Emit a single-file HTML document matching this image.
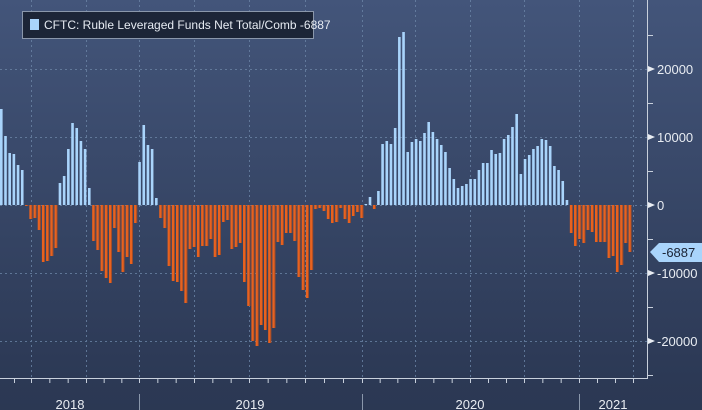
<!DOCTYPE html>
<html><head><meta charset="utf-8"><style>
html,body{margin:0;padding:0;width:702px;height:410px;overflow:hidden;background:#2b3852}
svg{display:block}
text{font-family:"Liberation Sans",sans-serif}
</style></head><body>
<svg id="s" width="702" height="410" xmlns="http://www.w3.org/2000/svg">
<defs>
<linearGradient id="bg" x1="0" y1="0" x2="0" y2="1">
<stop offset="0" stop-color="#43557a"/><stop offset="0.92" stop-color="#2c3955"/><stop offset="1" stop-color="#2b3853"/>
</linearGradient>
</defs>
<rect width="702" height="410" fill="url(#bg)"/>
<g id="grid" stroke="#6b84a6" stroke-width="1" stroke-dasharray="2,3" opacity="0.8"></g>
<g id="bars"></g>
<line x1="0" y1="378.5" x2="647" y2="378.5" stroke="#c8d0dc"/>
<line x1="647.5" y1="0" x2="647.5" y2="379" stroke="#c8d0dc"/>
<g id="ax" fill="#e8ecf2" font-size="13"></g>
<rect x="22.5" y="11.5" width="291" height="27" fill="#1c2537" stroke="#8a97ab"/>
<rect x="30" y="19" width="9" height="11" fill="#a9d4fb"/>
<text x="44" y="29" fill="#e6ebf2" font-size="12">CFTC: Ruble Leveraged Funds Net Total/Comb  -6887</text>
<path d="M650,252 L659,243 L702,243 L702,262 L659,262 Z" fill="#a9d4fb"/>
<text x="662" y="257" fill="#1a2335" font-size="13">-6887</text>
</svg>
<script>
var tops=[109,136,153,154,165,170,206,219,218,230,262,261,256,248,183,176,149,123,128,141,149,188,241,250,271,278,283,228,252,272,257,264,223,162,125,145,149,198,218,228,266,281,282,291,303,249,247,257,246,246,239,257,255,222,220,249,247,243,
282,306,341,346,325,330,343,328,242,245,233,233,241,277,290,298,270,209,208,211,219,223,222,208,219,223,216,212,218,204,197,209,
191,144,141,144,128,37,32,152,142,139,141,133,122,132,139,145,152,168,179,188,186,184,179,179,170,163,163,150,154,153,139,135,127,114,174,159,155,149,146,139,140,146,166,170,181,200,
233,246,239,243,230,232,242,242,242,258,256,272,265,243,252];
var NS="http://www.w3.org/2000/svg",b=document.getElementById('bars'),g=document.getElementById('grid'),ax=document.getElementById('ax');
function el(p,t,a){var e=document.createElementNS(NS,t);for(var k in a)e.setAttribute(k,a[k]);p.appendChild(e);return e;}
[69,137,205,273,341].forEach(function(y){el(g,'line',{x1:0,x2:647,y1:y+.5,y2:y+.5});});
[31,86,139,194,249,305,362,415,470,524,579,633].forEach(function(x){el(g,'line',{x1:x+.5,x2:x+.5,y1:0,y2:378});});
tops.forEach(function(t,i){var x=i*4.19;
 if(t<=205){el(b,'rect',{x:x,y:t,width:2.6,height:205-t,fill:'#a9d4fb'});}
 else{el(b,'rect',{x:x,y:205,width:3,height:t-205,fill:'#e8621f'});el(b,'rect',{x:x+2.2,y:205,width:0.9,height:t-205,fill:'#9a4a2a'});}
});
[[69,'20000'],[137,'10000'],[205,'0'],[273,'-10000'],[341,'-20000']].forEach(function(a){
 el(ax,'path',{d:'M648,'+(a[0]-3)+' L655,'+a[0]+' L648,'+(a[0]+3)+'Z',fill:'#e8ecf2'});
 var t=el(ax,'text',{x:657,y:a[0]+5});t.textContent=a[1];});
[35,103,171,239,307,375].forEach(function(y){el(ax,'line',{x1:647,x2:653,y1:y+.5,y2:y+.5,stroke:'#c8d0dc'});});
var q=[31,86,139,194,249,305,362,415,470,524,579,633];
for(var i=0;i<q.length;i++){var x0=q[i],x1=(i+1<q.length)?q[i+1]:x0+54;
 [0,1,2].forEach(function(k){var x=x0+(x1-x0)*k/3;if(x<646)el(ax,'line',{x1:x+.5,x2:x+.5,y1:378,y2:383,stroke:'#c8d0dc'});});}
el(ax,'line',{x1:14.5,x2:14.5,y1:378,y2:383,stroke:'#c8d0dc'});
[139,362,579].forEach(function(x){el(ax,'line',{x1:x+.5,x2:x+.5,y1:394,y2:410,stroke:'#8a97ab'});});
[[70,'2018'],[250,'2019'],[470,'2020'],[613,'2021']].forEach(function(a){var t=el(ax,'text',{x:a[0],y:409,'text-anchor':'middle'});t.textContent=a[1];});
</script>
</body></html>
